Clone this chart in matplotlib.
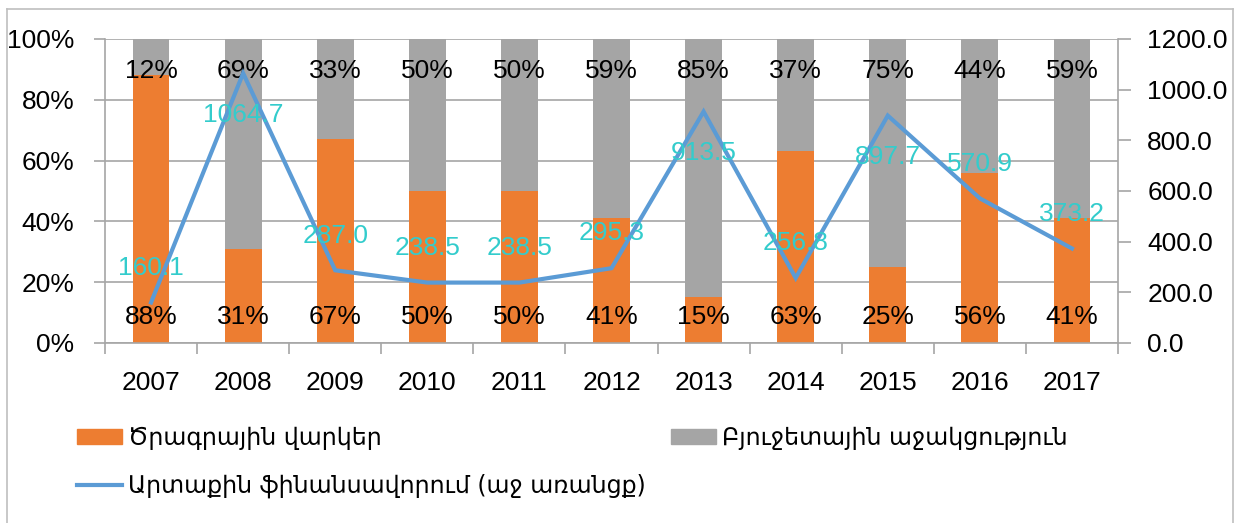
import matplotlib.pyplot as plt
import numpy as np
from matplotlib.lines import Line2D
from matplotlib.patches import Patch

plt.rcParams['font.family'] = ['Liberation Sans', 'DejaVu Sans']

years = ["2007", "2008", "2009", "2010", "2011", "2012", "2013", "2014", "2015", "2016", "2017"]
program_loans = [88, 31, 67, 50, 50, 41, 15, 63, 25, 56, 41]
budget_support = [12, 69, 33, 50, 50, 59, 85, 37, 75, 44, 59]
external_financing = [160.1, 1064.7, 287.0, 238.5, 238.5, 295.3, 913.5, 256.8, 897.7, 570.9, 373.2]

orange = "#ED7D31"
gray = "#A5A5A5"
blue = "#5B9BD5"
teal = "#33CCCC"
gridc = "#A6A6A6"
armenian = ['DejaVu Sans Condensed', 'DejaVu Sans']

fig = plt.figure(figsize=(12.46, 5.23), dpi=100)
ax = fig.add_axes([105 / 1246, 1 - 343 / 523, 1013 / 1246, 304 / 523])
ax2 = ax.twinx()

x = np.arange(len(years))
lo = np.array(program_loans) / 100
hi = np.array(budget_support) / 100
ax.bar(x, lo, width=0.4, color=orange, zorder=2)
ax.bar(x, hi, width=0.4, bottom=lo, color=gray, zorder=2)

for i in x:
    ax.text(i, 0.085, f"{program_loans[i]}%", ha="center", va="center", fontsize=19, zorder=3)
    ax.text(i, 0.895, f"{budget_support[i]}%", ha="center", va="center", fontsize=19, zorder=3)

ax.set_xlim(-0.5, len(years) - 0.5)
ax.set_ylim(0, 1)
ax.set_yticks(np.linspace(0, 1, 6))
ax.set_yticklabels([f"{v}%" for v in range(0, 101, 20)])
ax.grid(axis="y", color=gridc, lw=1.2, zorder=0)
ax.set_xticks(x)
ax.set_xticklabels(years)
ax.set_xticks(np.arange(-0.5, len(years)), minor=True)
ax.tick_params(axis="x", which="major", length=0, pad=20, labelsize=19)
ax.tick_params(axis="x", which="minor", length=8, color=gridc, width=1.2)
ax.tick_params(axis="y", length=8, color=gridc, width=1.2, pad=14, labelsize=19)

ax.spines["top"].set_visible(False)
ax2.spines["top"].set_visible(False)
ax.spines["left"].set_color(gridc)
ax.spines["bottom"].set_color(gridc)
ax.spines["right"].set_visible(False)
ax2.spines["left"].set_visible(False)
ax2.spines["bottom"].set_visible(False)
ax2.spines["right"].set_color(gridc)
for sp in ax.spines.values():
    sp.set_linewidth(1.2)
ax2.spines["right"].set_linewidth(1.2)

ax2.plot(x, external_financing, color=blue, lw=3, solid_joinstyle="miter", zorder=3)
ax2.set_ylim(0, 1200)
ax2.set_yticks(np.arange(0, 1201, 200))
ax2.set_yticklabels([f"{v:.1f}" for v in np.arange(0, 1201, 200)])
ax2.tick_params(axis="y", length=9, color=gridc, width=1.2, pad=12, labelsize=19)

# labels go under peaks, above everything else
n = len(external_financing)
for i, v in enumerate(external_financing):
    left = external_financing[i - 1] if i > 0 else -1
    right = external_financing[i + 1] if i < n - 1 else -1
    dy = -30 if (v > left and v > right) else 25
    ax2.annotate(f"{v:.1f}", (i, v), xytext=(0, dy), textcoords="offset points",
                 ha="center", va="center", color=teal, fontsize=19, zorder=4)

legfont = dict(family=armenian, size=17)
leg1 = fig.legend(handles=[Patch(color=orange), Line2D([], [], color=blue, lw=3)],
                  labels=["Ծրագրային վարկեր", "Արտաքին ֆինանսավորում (աջ առանցք)"],
                  loc="upper left", bbox_to_anchor=(56 / 1246, 1 - 405 / 523), frameon=False,
                  prop=legfont, handlelength=1.9, handleheight=0.6, handletextpad=0.25,
                  labelspacing=1.0)
leg2 = fig.legend(handles=[Patch(color=gray)], labels=["Բյուջետային աջակցություն"],
                  loc="upper left", bbox_to_anchor=(650 / 1246, 1 - 405 / 523), frameon=False,
                  prop=legfont, handlelength=1.9, handleheight=0.6, handletextpad=0.25)

# outer frame
bx0, bx1, by0 = 7 / 1246, 1233 / 1246, 1 - 9 / 523
for xs, ys in [([bx0, bx1], [by0, by0]), ([bx0, bx0], [by0, 0]), ([bx1, bx1], [by0, 0])]:
    fig.add_artist(Line2D(xs, ys, transform=fig.transFigure, color="#BFBFBF", lw=1.2))

fig.savefig("out.png", dpi=100)
